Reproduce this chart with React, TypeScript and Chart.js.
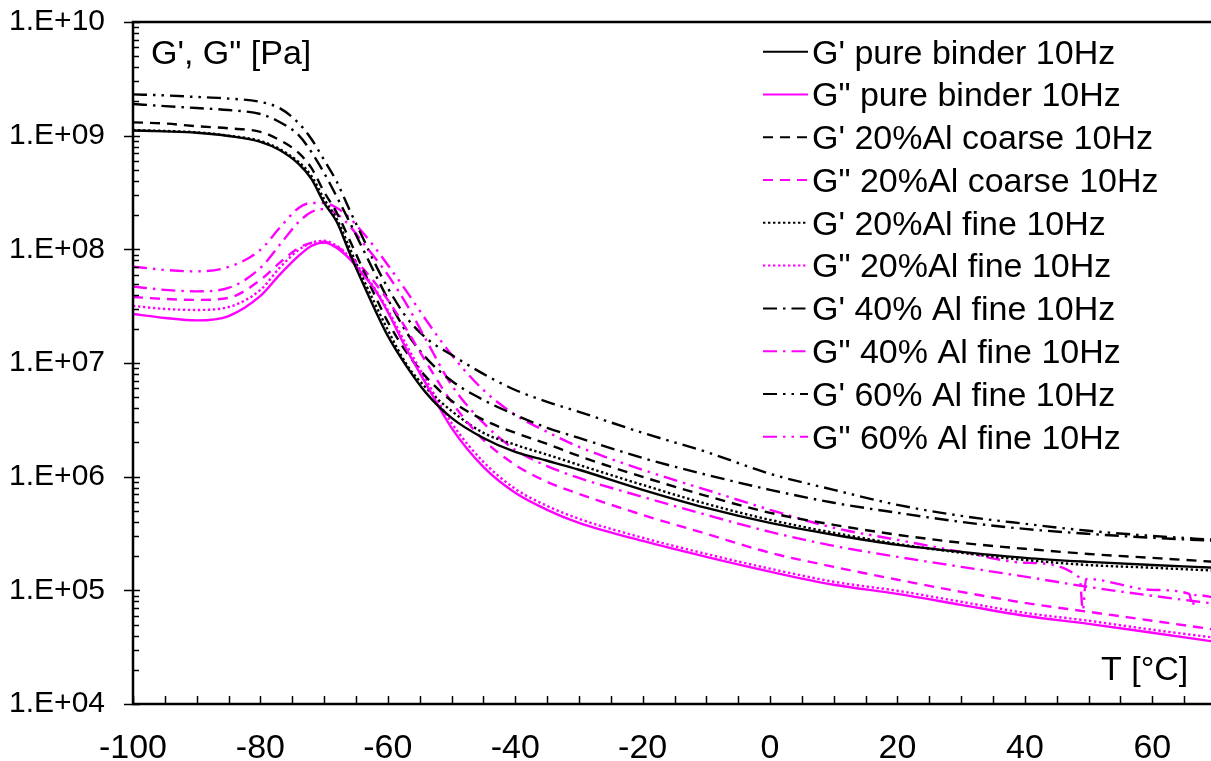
import React, { useEffect, useRef } from 'react';
import { Chart, registerables } from 'chart.js';

Chart.register(...registerables);

// ---------- data ----------
const temps = [-100, -95, -90, -85, -80, -77, -74, -72, -70, -68, -66, -64, -62, -60, -57, -54, -50, -45, -40, -35, -30, -20, -10, 0, 10, 20, 30, 40, 50, 60, 70];

const gPrimePure = [1.11e9, 1.09e9, 1.06e9, 9.93e8, 8.81e8, 7.48e8, 5.64e8, 4.16e8, 2.56e8, 1.74e8, 9.29e7, 5.16e7, 2.93e7, 1.73e7, 9.25e6, 5.46e6, 3.29e6, 2.19e6, 1.65e6, 1.38e6, 1.15e6, 7.66e5, 5.31e5, 3.92e5, 3.08e5, 2.51e5, 2.18e5, 1.93e5, 1.78e5, 1.67e5, 1.58e5];
const gSecPure = [2.70e7, 2.49e7, 2.37e7, 2.59e7, 3.89e7, 5.96e7, 8.75e7, 1.07e8, 1.15e8, 1.03e8, 8.24e7, 6.08e7, 4.40e7, 2.81e7, 1.30e7, 6.55e6, 2.69e6, 1.22e6, 7.21e5, 5.11e5, 3.92e5, 2.72e5, 1.97e5, 1.46e5, 1.12e5, 9.31e4, 7.45e4, 5.97e4, 5.07e4, 4.23e4, 3.52e4];
const gPrimeCoarse20 = [1.31e9, 1.28e9, 1.21e9, 1.16e9, 1.08e9, 9.16e8, 7.05e8, 5.20e8, 3.20e8, 2.09e8, 1.21e8, 6.86e7, 3.89e7, 2.30e7, 1.23e7, 7.55e6, 4.65e6, 3.16e6, 2.43e6, 1.94e6, 1.52e6, 9.95e5, 6.78e5, 4.81e5, 3.77e5, 3.08e5, 2.62e5, 2.32e5, 2.09e5, 1.93e5, 1.78e5];
const gSecCoarse20 = [3.81e7, 3.66e7, 3.59e7, 3.74e7, 5.38e7, 7.59e7, 1.03e8, 1.14e8, 1.16e8, 1.05e8, 8.75e7, 6.86e7, 5.06e7, 3.59e7, 1.95e7, 1.02e7, 4.55e6, 2.11e6, 1.27e6, 9.00e5, 7.06e5, 4.61e5, 3.14e5, 2.14e5, 1.61e5, 1.24e5, 9.70e4, 7.76e4, 6.47e4, 5.40e4, 4.50e4];
const gPrimeFine20 = [1.12e9, 1.10e9, 1.07e9, 1.00e9, 8.98e8, 7.64e8, 5.87e8, 4.43e8, 2.77e8, 1.85e8, 1.03e8, 5.71e7, 3.31e7, 1.95e7, 9.62e6, 6.04e6, 3.79e6, 2.43e6, 1.91e6, 1.56e6, 1.27e6, 8.47e5, 5.77e5, 4.17e5, 3.21e5, 2.56e5, 2.14e5, 1.85e5, 1.67e5, 1.58e5, 1.49e5];
const gSecFine20 = [3.18e7, 2.99e7, 2.93e7, 3.11e7, 4.40e7, 6.86e7, 9.89e7, 1.14e8, 1.19e8, 1.07e8, 8.57e7, 6.32e7, 4.49e7, 2.93e7, 1.41e7, 7.10e6, 2.97e6, 1.35e6, 7.82e5, 5.53e5, 4.26e5, 2.90e5, 2.09e5, 1.55e5, 1.19e5, 9.91e4, 7.93e4, 6.34e4, 5.40e4, 4.50e4, 3.82e4];
const gPrimeFine40 = [1.90e9, 1.82e9, 1.75e9, 1.68e9, 1.55e9, 1.32e9, 1.01e9, 7.19e8, 4.70e8, 2.89e8, 1.74e8, 1.03e8, 6.08e7, 3.66e7, 1.84e7, 1.11e7, 6.97e6, 4.73e6, 3.50e6, 2.69e6, 2.19e6, 1.46e6, 1.04e6, 7.66e5, 5.89e5, 4.81e5, 4.00e5, 3.47e5, 3.14e5, 2.90e5, 2.72e5];
const gSecFine40 = [4.70e7, 4.40e7, 4.27e7, 4.58e7, 6.86e7, 1.09e8, 1.74e8, 2.13e8, 2.26e8, 2.05e8, 1.61e8, 1.16e8, 8.40e7, 5.96e7, 3.24e7, 1.60e7, 6.41e6, 2.97e6, 1.72e6, 1.24e6, 9.75e5, 6.64e5, 4.61e5, 3.27e5, 2.46e5, 1.97e5, 1.61e5, 1.32e5, 1.07e5, 8.95e4, 7.60e4];
const gPrimeFine60 = [2.31e9, 2.26e9, 2.19e9, 2.12e9, 1.98e9, 1.75e9, 1.29e9, 9.35e8, 6.11e8, 3.92e8, 2.22e8, 1.29e8, 7.45e7, 4.58e7, 2.49e7, 1.66e7, 1.18e7, 8.02e6, 5.79e6, 4.55e6, 3.72e6, 2.43e6, 1.65e6, 1.06e6, 7.66e5, 5.65e5, 4.52e5, 3.85e5, 3.34e5, 3.01e5, 2.78e5];

const tempsSecFine60 = [-100, -95, -90, -85, -80, -77, -74, -72, -70, -68, -66, -64, -62, -60, -57, -54, -50, -45, -40, -35, -30, -20, -10, 0, 10, 20, 30, 40, 48.6, 49.1, 49.6, 60, 65.8, 66.3, 66.8, 70];
const gSecFine60 = [7.05e7, 6.59e7, 6.40e7, 7.00e7, 9.89e7, 1.54e8, 2.31e8, 2.56e8, 2.56e8, 2.31e8, 1.89e8, 1.42e8, 1.03e8, 7.29e7, 4.22e7, 2.39e7, 1.18e7, 5.79e6, 3.50e6, 2.48e6, 1.83e6, 1.15e6, 7.66e5, 5.11e5, 3.55e5, 2.78e5, 2.18e5, 1.75e5, 1.29e5, 6.73e4, 1.26e5, 1.01e5, 9.31e4, 7.31e4, 9.12e4, 8.59e4];

const seriesLabels = [
  "G' pure binder 10Hz",
  'G" pure binder 10Hz',
  "G' 20%Al coarse 10Hz",
  'G" 20%Al coarse 10Hz',
  "G' 20%Al fine 10Hz",
  'G" 20%Al fine 10Hz',
  "G' 40% Al fine 10Hz",
  'G" 40% Al fine 10Hz',
  "G' 60% Al fine 10Hz",
  'G" 60% Al fine 10Hz',
];

const xTickValues = [-100, -80, -60, -40, -20, 0, 20, 40, 60];
const xTickLabels = ['-100', '-80', '-60', '-40', '-20', '0', '20', '40', '60'];
const yTickValues = [1e4, 1e5, 1e6, 1e7, 1e8, 1e9, 1e10];
const yTickLabels = ['1.E+04', '1.E+05', '1.E+06', '1.E+07', '1.E+08', '1.E+09', '1.E+10'];

const yAxisTitle = 'G\', G" [Pa]';
const xAxisTitle = 'T [°C]';

// ---------- styles ----------
const BLACK = '#000000';
const MAGENTA = '#ff00ff';
const SOLID: number[] = [];
const DASHED = [10, 7];
const DOTTED = [2.4, 2.6];
const DASH_DOT = [14, 6, 2.5, 6];
const DASH_DOT_DOT = [14, 6, 2.5, 6, 2.5, 6];
const FONT = '"Liberation Sans", Arial, Helvetica, sans-serif';

const pairs = (xs: number[], ys: number[]) => xs.map((x, i) => ({ x, y: ys[i] }));

const seriesDefs = [
  { xs: temps, ys: gPrimePure, color: BLACK, dash: SOLID },
  { xs: temps, ys: gSecPure, color: MAGENTA, dash: SOLID },
  { xs: temps, ys: gPrimeCoarse20, color: BLACK, dash: DASHED },
  { xs: temps, ys: gSecCoarse20, color: MAGENTA, dash: DASHED },
  { xs: temps, ys: gPrimeFine20, color: BLACK, dash: DOTTED },
  { xs: temps, ys: gSecFine20, color: MAGENTA, dash: DOTTED },
  { xs: temps, ys: gPrimeFine40, color: BLACK, dash: DASH_DOT },
  { xs: temps, ys: gSecFine40, color: MAGENTA, dash: DASH_DOT },
  { xs: temps, ys: gPrimeFine60, color: BLACK, dash: DASH_DOT_DOT },
  { xs: tempsSecFine60, ys: gSecFine60, color: MAGENTA, dash: DASH_DOT_DOT },
];

const framePlugin = {
  id: 'framePlugin',
  afterDatasetsDraw(chart: any) {
    const { ctx, chartArea: a, scales } = chart;
    const xs = scales.x;
    const ys = scales.y;
    ctx.save();
    ctx.strokeStyle = '#000';
    ctx.lineCap = 'butt';

    // frame
    ctx.lineWidth = 2.5;
    ctx.setLineDash([]);
    ctx.beginPath();
    ctx.rect(a.left, a.top, a.right - a.left, a.bottom - a.top);
    ctx.stroke();

    // y ticks (major crossing, minor inside)
    ctx.lineWidth = 1.5;
    ctx.beginPath();
    for (let i = 0; i < yTickValues.length; i++) {
      const v = yTickValues[i];
      const py = Math.round(ys.getPixelForValue(v)) + 0.5;
      ctx.moveTo(a.left - 9, py);
      ctx.lineTo(a.left + 7, py);
      if (i < yTickValues.length - 1) {
        for (let m = 2; m <= 9; m++) {
          const pm = Math.round(ys.getPixelForValue(v * m)) + 0.5;
          ctx.moveTo(a.left, pm);
          ctx.lineTo(a.left + 6, pm);
        }
      }
    }
    // x ticks (inside, every 5 degrees)
    for (let t = xs.min; t <= xs.max; t += 5) {
      const px = Math.round(xs.getPixelForValue(t)) + 0.5;
      ctx.moveTo(px, a.bottom);
      ctx.lineTo(px, a.bottom - 8);
    }
    ctx.stroke();

    // axis titles inside the plot
    ctx.fillStyle = '#000';
    ctx.font = `34px ${FONT}`;
    ctx.textAlign = 'left';
    ctx.textBaseline = 'alphabetic';
    ctx.fillText(yAxisTitle, 151, 64);
    ctx.fillText(xAxisTitle, 1101, 680);

    // legend
    const rowTop = 51.7;
    const rowStep = 42.78;
    const sx0 = 763;
    const sx1 = 808;
    chart.data.datasets.forEach((ds: any, i: number) => {
      const ry = rowTop + i * rowStep;
      ctx.strokeStyle = ds.borderColor;
      ctx.lineWidth = 2;
      ctx.setLineDash(ds.borderDash || []);
      ctx.beginPath();
      ctx.moveTo(sx0, ry);
      ctx.lineTo(sx1, ry);
      ctx.stroke();
      ctx.setLineDash([]);
      ctx.fillStyle = '#000';
      ctx.font = `34px ${FONT}`;
      ctx.fillText(ds.label, 812, ry + 11.8);
    });
    ctx.restore();
  },
};

export default function App() {
  const canvasRef = useRef<HTMLCanvasElement | null>(null);

  useEffect(() => {
    const canvas = canvasRef.current;
    if (!canvas) return;
    const chart = new Chart(canvas, {
      type: 'scatter',
      data: {
        datasets: seriesDefs.map((s, i) => ({
          label: seriesLabels[i],
          data: pairs(s.xs, s.ys),
          showLine: true,
          borderColor: s.color,
          backgroundColor: s.color,
          borderWidth: 2.4,
          borderDash: s.dash,
          pointRadius: 0,
          pointHoverRadius: 0,
          cubicInterpolationMode: 'monotone' as const,
          fill: false,
        })),
      },
      options: {
        animation: false,
        responsive: false,
        maintainAspectRatio: false,
        events: [],
        layout: { padding: { top: 22, right: 14, left: 0, bottom: 0 } },
        plugins: {
          legend: { display: false },
          tooltip: { enabled: false },
          title: { display: false },
        },
        scales: {
          x: {
            type: 'linear',
            min: -100,
            max: 70,
            grid: { display: false },
            border: { display: false },
            afterBuildTicks: (scale: any) => {
              scale.ticks = xTickValues.map((v) => ({ value: v }));
            },
            afterFit: (scale: any) => {
              scale.height = 57;
              scale.paddingLeft = 0;
              scale.paddingRight = 0;
              scale.paddingTop = 0;
              scale.paddingBottom = 0;
            },
            ticks: {
              autoSkip: false,
              maxRotation: 0,
              padding: 16,
              color: '#000',
              font: { family: FONT, size: 34 },
              callback: (value: any) => {
                const idx = xTickValues.indexOf(Number(value));
                return idx >= 0 ? xTickLabels[idx] : '';
              },
            },
          },
          y: {
            type: 'logarithmic',
            min: 1e4,
            max: 1e10,
            grid: { display: false },
            border: { display: false },
            afterBuildTicks: (scale: any) => {
              scale.ticks = yTickValues.map((v) => ({ value: v, major: true }));
            },
            afterFit: (scale: any) => {
              scale.width = 133;
              scale.paddingLeft = 0;
              scale.paddingRight = 0;
              scale.paddingTop = 0;
              scale.paddingBottom = 0;
            },
            ticks: {
              autoSkip: false,
              padding: 20,
              color: '#000',
              font: { family: FONT, size: 30 },
              callback: (value: any) => {
                const idx = yTickValues.findIndex((v) => Math.abs(v - Number(value)) / v < 1e-6);
                return idx >= 0 ? yTickLabels[idx] : '';
              },
            },
          },
        },
      },
      plugins: [framePlugin],
    } as any);
    return () => chart.destroy();
  }, []);

  return (
    <div
      style={{
        position: 'fixed',
        left: 0,
        top: 0,
        width: 1211,
        height: 761,
        overflow: 'hidden',
        background: '#ffffff',
      }}
    >
      <canvas
        ref={canvasRef}
        width={1230}
        height={761}
        style={{ display: 'block', width: '1230px', height: '761px' }}
      />
    </div>
  );
}
